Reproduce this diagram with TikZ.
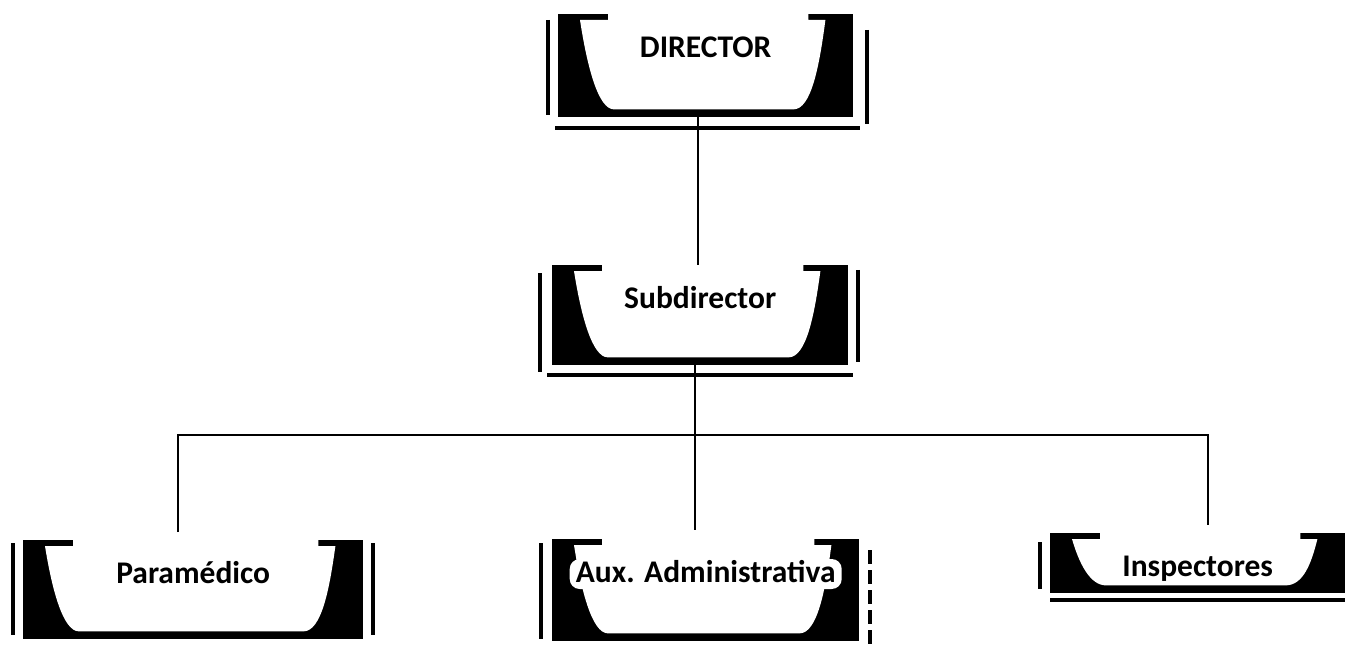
\documentclass[tikz,border=0pt]{standalone}
\usepackage{fontspec}
\setmainfont{Carlito}
\usetikzlibrary{calc,backgrounds}

\newcommand{\marco}[1]{%
	\begin{pgfonlayer}{background}
		\fill (#1.north west) rectangle (#1.south east);
		\fill[white] ($(#1.north west)+(50,0)$) -- ($(#1.north east)+(-45,0)$) -- ($(#1.north east)+(-45,6)$) -- ($(#1.north east)+(-28,6)$) .. controls ($(#1.north east)!0.5!(#1.south east)+(-34,0)$) and ($(#1.south east)+(-42,-8)$) .. ($(#1.south east)+(-60,-8)$) -- ($(#1.south west)+(56,-8)$) .. controls ($(#1.south west)+(40,-8)$) and ($(#1.north west)!0.5!(#1.south west)+(29,0)$) .. ($(#1.north west)+(22,6)$) -- ($(#1.north west)+(50,6)$) -- cycle;
	\end{pgfonlayer}}

\begin{document}
\begin{tikzpicture}[x=1pt,y=-1pt,
		cargo/.style={inner sep=0pt, text height=43pt, anchor=north west, font=\fontsize{31.5}{36}\selectfont\bfseries},
		linea/.style={line width=2pt},
		barra/.style={line width=4pt}]
			\useasboundingbox (0,0) rectangle (1347,647);

			\node[cargo, minimum width=295pt, text depth=60pt] (dir) at (558,14) {DIRECTOR};
			\node[cargo, minimum width=296pt, text depth=57pt] (sub) at (552,265) {Subdirector};
			\node[cargo, minimum width=340pt, text depth=56pt] (para) at (23,540) {Paramédico};
			\node[cargo, minimum width=307pt, text depth=59pt] (aux) at (552,539) {Aux. Administrativa};
			\node[cargo, minimum width=295pt, text depth=17pt] (ins) at (1050,533) {Inspectores};

			\marco{dir}
			\marco{sub}
			\marco{para}
			\marco{aux}
			\marco{ins}
			\begin{pgfonlayer}{background}
				\fill[white, rounded corners=10pt] ($(aux.north)+(-136,20)$) rectangle ($(aux.north)+(136,50)$);
			\end{pgfonlayer}

			\draw[barra] ($(dir.north west)+(-10,6)$) -- ($(dir.south west)+(-10,-2)$);
			\draw[barra] ($(dir.north east)+(14,16)$) -- ($(dir.south east)+(14,7)$);
			\draw[barra] ($(dir.south west)+(-3,11)$) -- ($(dir.south east)+(7,11)$);
			\draw[barra] ($(sub.north west)+(-12,8)$) -- ($(sub.south west)+(-12,7)$);
			\draw[barra] ($(sub.north east)+(10,5)$) -- ($(sub.south east)+(10,-3)$);
			\draw[barra] ($(sub.south west)+(-5,10)$) -- ($(sub.south east)+(5,10)$);
			\draw[barra] ($(para.north west)+(-10,3)$) -- ($(para.south west)+(-10,-4)$);
			\draw[barra] ($(para.north east)+(10,3)$) -- ($(para.south east)+(10,-4)$);
			\draw[barra] ($(aux.north west)+(-11,4)$) -- ($(aux.south west)+(-11,-2)$);
			\draw[barra, dash pattern=on 14pt off 6pt] ($(aux.north east)+(11,11)$) -- ($(aux.south east)+(11,6)$);
			\draw[barra] ($(ins.north west)+(-10,9)$) -- ($(ins.south west)+(-10,-4)$);
			\draw[barra] ($(ins.south west)+(0,7)$) -- ($(ins.south east)+(0,7)$);

			\coordinate (bus) at (695,435);
			\draw[linea] ([xshift=-8pt]dir.south) -- ([xshift=-8pt]dir.south |- sub.north);
			\draw[linea] ([xshift=-5pt]sub.south) -- ([xshift=-5pt,yshift=9pt]sub.south |- aux.north);
			\draw[linea] ([xshift=-15pt,yshift=8pt]para.north) |- (bus) -| ([xshift=10pt,yshift=8pt]ins.north);
		\end{tikzpicture}
\end{document}
